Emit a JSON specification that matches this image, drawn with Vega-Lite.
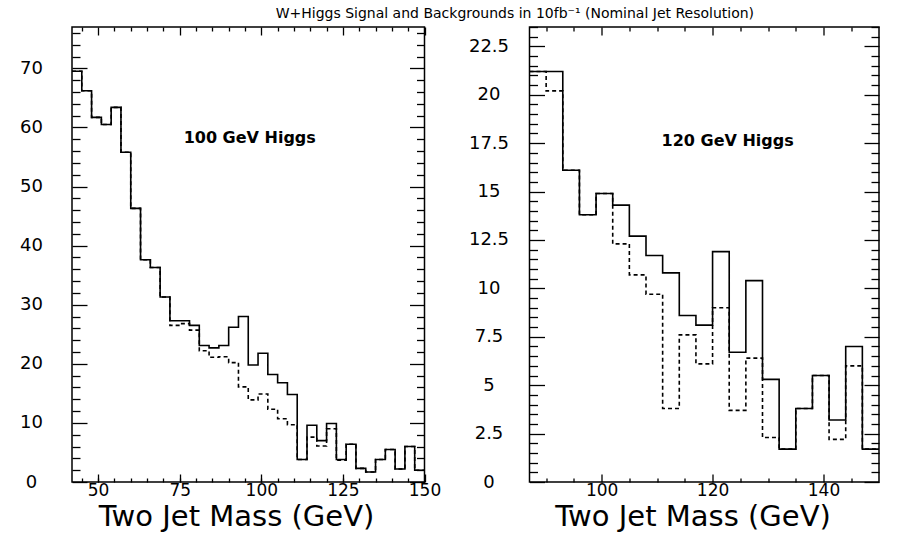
{
  "$schema": "https://vega.github.io/schema/vega-lite/v6.json",
  "background": "white",
  "padding": {"left": 18, "top": 6, "right": 0, "bottom": 0},
  "title": {"text": "W+Higgs Signal and Backgrounds in 10fb⁻¹ (Nominal Jet Resolution)", "font": "DejaVu Sans", "fontSize": 14, "fontWeight": "normal", "color": "black", "anchor": "middle", "dx": 64, "offset": 5},
  "bounds": "flush",
  "spacing": 104.5,
  "datasets": {
    "leftTotal": [
      {"m": 42, "n": 69.5}, {"m": 45, "n": 66.2}, {"m": 48, "n": 61.7}, {"m": 51, "n": 60.5}, {"m": 54, "n": 63.4}, {"m": 57, "n": 55.8},
      {"m": 60, "n": 46.3}, {"m": 63, "n": 37.6}, {"m": 66, "n": 36.3}, {"m": 69, "n": 31.3}, {"m": 72, "n": 27.3}, {"m": 75, "n": 27.3},
      {"m": 78, "n": 26.5}, {"m": 81, "n": 23.1}, {"m": 84, "n": 22.7}, {"m": 87, "n": 23.1}, {"m": 90, "n": 26.2}, {"m": 93, "n": 28.0},
      {"m": 96, "n": 19.8}, {"m": 99, "n": 21.8}, {"m": 102, "n": 18.2}, {"m": 105, "n": 16.8}, {"m": 108, "n": 14.8}, {"m": 111, "n": 3.8},
      {"m": 114, "n": 9.6}, {"m": 117, "n": 7.0}, {"m": 120, "n": 9.9}, {"m": 123, "n": 3.8}, {"m": 126, "n": 6.4}, {"m": 129, "n": 2.3},
      {"m": 132, "n": 1.7}, {"m": 135, "n": 3.8}, {"m": 138, "n": 5.5}, {"m": 141, "n": 2.2}, {"m": 144, "n": 6.0}, {"m": 147, "n": 2.0},
      {"m": 150, "n": 2.0}
    ],
    "leftBkg": [
      {"m": 42, "n": 69.5}, {"m": 45, "n": 66.2}, {"m": 48, "n": 61.7}, {"m": 51, "n": 60.5}, {"m": 54, "n": 63.4}, {"m": 57, "n": 55.8},
      {"m": 60, "n": 46.3}, {"m": 63, "n": 37.6}, {"m": 66, "n": 36.3}, {"m": 69, "n": 31.3}, {"m": 72, "n": 26.5}, {"m": 75, "n": 26.8},
      {"m": 78, "n": 25.7}, {"m": 81, "n": 22.2}, {"m": 84, "n": 21.1}, {"m": 87, "n": 21.2}, {"m": 90, "n": 20.2}, {"m": 93, "n": 16.1},
      {"m": 96, "n": 13.9}, {"m": 99, "n": 14.9}, {"m": 102, "n": 12.3}, {"m": 105, "n": 10.7}, {"m": 108, "n": 9.7}, {"m": 111, "n": 3.8},
      {"m": 114, "n": 7.6}, {"m": 117, "n": 6.1}, {"m": 120, "n": 9.0}, {"m": 123, "n": 3.7}, {"m": 126, "n": 6.4}, {"m": 129, "n": 2.3},
      {"m": 132, "n": 1.7}, {"m": 135, "n": 3.8}, {"m": 138, "n": 5.5}, {"m": 141, "n": 2.2}, {"m": 144, "n": 6.0}, {"m": 147, "n": 2.0},
      {"m": 150, "n": 2.0}
    ],
    "rightTotal": [
      {"m": 87, "n": 21.2}, {"m": 90, "n": 21.2}, {"m": 93, "n": 16.1}, {"m": 96, "n": 13.8}, {"m": 99, "n": 14.9}, {"m": 102, "n": 14.3},
      {"m": 105, "n": 12.7}, {"m": 108, "n": 11.7}, {"m": 111, "n": 10.8}, {"m": 114, "n": 8.6}, {"m": 117, "n": 8.1}, {"m": 120, "n": 11.9},
      {"m": 123, "n": 6.7}, {"m": 126, "n": 10.4}, {"m": 129, "n": 5.3}, {"m": 132, "n": 1.7}, {"m": 135, "n": 3.8}, {"m": 138, "n": 5.5},
      {"m": 141, "n": 3.2}, {"m": 144, "n": 7.0}, {"m": 147, "n": 1.7}, {"m": 150, "n": 1.7}
    ],
    "rightBkg": [
      {"m": 87, "n": 21.2}, {"m": 90, "n": 20.2}, {"m": 93, "n": 16.1}, {"m": 96, "n": 13.8}, {"m": 99, "n": 14.9}, {"m": 102, "n": 12.3},
      {"m": 105, "n": 10.7}, {"m": 108, "n": 9.7}, {"m": 111, "n": 3.8}, {"m": 114, "n": 7.6}, {"m": 117, "n": 6.1}, {"m": 120, "n": 9.0},
      {"m": 123, "n": 3.7}, {"m": 126, "n": 6.4}, {"m": 129, "n": 2.3}, {"m": 132, "n": 1.7}, {"m": 135, "n": 3.8}, {"m": 138, "n": 5.5},
      {"m": 141, "n": 2.2}, {"m": 144, "n": 6.0}, {"m": 147, "n": 1.7}, {"m": 150, "n": 1.7}
    ]
  },
  "hconcat": [
    {
      "width": 352.5,
      "height": 455,
      "layer": [
        {
          "data": {"name": "leftTotal"},
          "mark": {"type": "line", "interpolate": "step-after", "color": "black", "strokeWidth": 1.6},
          "encoding": {
            "x": {"field": "m", "type": "quantitative", "scale": {"domain": [42, 150], "nice": false, "zero": false},
                  "axis": {"orient": "bottom", "values": [50, 75, 100, 125, 150], "format": "d", "tickSize": -8, "labelPadding": 8, "labelFontSize": 17, "labelFlush": false, "labelOverlap": false, "title": "Two Jet Mass (GeV)", "titleFontSize": 29, "titlePadding": 4, "titleX": 164}},
            "y": {"field": "n", "type": "quantitative", "scale": {"domain": [0, 77], "nice": false},
                  "axis": {"orient": "left", "values": [0, 10, 20, 30, 40, 50, 60, 70], "format": "d", "tickSize": -15, "labelPadding": 56, "labelAlign": "center", "labelBaseline": "middle", "labelFlush": false, "labelOverlap": false, "title": null}}
          }
        },
        {
          "data": {"name": "leftBkg"},
          "mark": {"type": "line", "interpolate": "step-after", "color": "black", "strokeWidth": 1.6, "strokeDash": [4, 3]},
          "encoding": {
            "x": {"field": "m", "type": "quantitative",
                  "axis": {"orient": "bottom", "values": [45, 50, 55, 60, 65, 70, 75, 80, 85, 90, 95, 100, 105, 110, 115, 120, 125, 130, 135, 140, 145], "labels": false, "tickSize": -4, "title": null}},
            "y": {"field": "n", "type": "quantitative",
                  "axis": {"orient": "left", "values": [2, 4, 6, 8, 12, 14, 16, 18, 22, 24, 26, 28, 32, 34, 36, 38, 42, 44, 46, 48, 52, 54, 56, 58, 62, 64, 66, 68, 72, 74, 76], "labels": false, "tickSize": -8, "title": null}}
          }
        },
        {
          "data": {"values": [{"m": 76.2, "n": 58.3, "label": "100 GeV Higgs"}]},
          "mark": {"type": "text", "align": "left", "baseline": "middle", "font": "DejaVu Sans", "fontSize": 16, "fontWeight": "bold", "color": "black"},
          "encoding": {
            "x": {"field": "m", "type": "quantitative",
                  "axis": {"orient": "top", "values": [50, 75, 100, 125, 150], "labels": false, "tickSize": -8, "title": null}},
            "y": {"field": "n", "type": "quantitative",
                  "axis": {"orient": "right", "values": [0, 10, 20, 30, 40, 50, 60, 70], "labels": false, "tickSize": -15, "title": null}},
            "text": {"field": "label"}
          }
        },
        {
          "data": {"name": "leftTotal"},
          "mark": {"type": "point", "opacity": 0},
          "encoding": {
            "x": {"field": "m", "type": "quantitative",
                  "axis": {"orient": "top", "values": [45, 55, 60, 65, 70, 80, 85, 90, 95, 105, 110, 115, 120, 130, 135, 140, 145], "labels": false, "tickSize": -4, "title": null}},
            "y": {"field": "n", "type": "quantitative",
                  "axis": {"orient": "right", "values": [2, 4, 6, 8, 12, 14, 16, 18, 22, 24, 26, 28, 32, 34, 36, 38, 42, 44, 46, 48, 52, 54, 56, 58, 62, 64, 66, 68, 72, 74, 76], "labels": false, "tickSize": -8, "title": null}}
          }
        }
      ],
      "resolve": {"axis": {"x": "independent", "y": "independent"}}
    },
    {
      "width": 349.5,
      "height": 455,
      "layer": [
        {
          "data": {"name": "rightTotal"},
          "mark": {"type": "line", "interpolate": "step-after", "color": "black", "strokeWidth": 1.6},
          "encoding": {
            "x": {"field": "m", "type": "quantitative", "scale": {"domain": [87, 150], "nice": false, "zero": false},
                  "axis": {"orient": "bottom", "values": [100, 120, 140], "format": "d", "tickSize": -8, "labelPadding": 8, "labelFontSize": 17, "labelFlush": false, "labelOverlap": false, "title": "Two Jet Mass (GeV)", "titleFontSize": 29, "titlePadding": 4, "titleX": 163}},
            "y": {"field": "n", "type": "quantitative", "scale": {"domain": [0, 23.5], "nice": false},
                  "axis": {"orient": "left", "values": [0, 2.5, 5, 7.5, 10, 12.5, 15, 17.5, 20, 22.5], "format": ".3~g", "tickSize": -15, "labelPadding": 56, "labelAlign": "center", "labelBaseline": "middle", "labelFlush": false, "labelOverlap": false, "title": null}}
          }
        },
        {
          "data": {"name": "rightBkg"},
          "mark": {"type": "line", "interpolate": "step-after", "color": "black", "strokeWidth": 1.6, "strokeDash": [4, 3]},
          "encoding": {
            "x": {"field": "m", "type": "quantitative",
                  "axis": {"orient": "bottom", "values": [90, 95, 105, 110, 115, 125, 130, 135, 145], "labels": false, "tickSize": -4, "title": null}},
            "y": {"field": "n", "type": "quantitative",
                  "axis": {"orient": "left", "values": [0.5, 1, 1.5, 2, 3, 3.5, 4, 4.5, 5.5, 6, 6.5, 7, 8, 8.5, 9, 9.5, 10.5, 11, 11.5, 12, 13, 13.5, 14, 14.5, 15.5, 16, 16.5, 17, 18, 18.5, 19, 19.5, 20.5, 21, 21.5, 22, 23, 23.5], "labels": false, "tickSize": -8, "title": null}}
          }
        },
        {
          "data": {"values": [{"m": 110.8, "n": 17.6, "label": "120 GeV Higgs"}]},
          "mark": {"type": "text", "align": "left", "baseline": "middle", "font": "DejaVu Sans", "fontSize": 16, "fontWeight": "bold", "color": "black"},
          "encoding": {
            "x": {"field": "m", "type": "quantitative",
                  "axis": {"orient": "top", "values": [100, 120, 140], "labels": false, "tickSize": -8, "title": null}},
            "y": {"field": "n", "type": "quantitative",
                  "axis": {"orient": "right", "values": [0, 2.5, 5, 7.5, 10, 12.5, 15, 17.5, 20, 22.5], "labels": false, "tickSize": -15, "title": null}},
            "text": {"field": "label"}
          }
        },
        {
          "data": {"name": "rightTotal"},
          "mark": {"type": "point", "opacity": 0},
          "encoding": {
            "x": {"field": "m", "type": "quantitative",
                  "axis": {"orient": "top", "values": [90, 95, 105, 110, 115, 125, 130, 135, 145], "labels": false, "tickSize": -4, "title": null}},
            "y": {"field": "n", "type": "quantitative",
                  "axis": {"orient": "right", "values": [0.5, 1, 1.5, 2, 3, 3.5, 4, 4.5, 5.5, 6, 6.5, 7, 8, 8.5, 9, 9.5, 10.5, 11, 11.5, 12, 13, 13.5, 14, 14.5, 15.5, 16, 16.5, 17, 18, 18.5, 19, 19.5, 20.5, 21, 21.5, 22, 23, 23.5], "labels": false, "tickSize": -8, "title": null}}
          }
        }
      ],
      "resolve": {"axis": {"x": "independent", "y": "independent"}}
    }
  ],
  "config": {
    "view": {"stroke": "black", "strokeWidth": 1.5},
    "axis": {"domain": false, "grid": false, "ticks": true, "tickColor": "black", "tickWidth": 1.3, "labelColor": "black", "labelFont": "DejaVu Sans", "labelFontSize": 18, "titleFont": "DejaVu Sans", "titleFontWeight": "normal", "titleColor": "black"}
  }
}
